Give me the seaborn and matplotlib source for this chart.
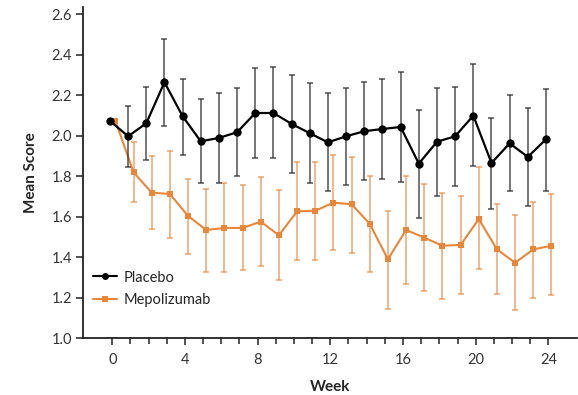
import numpy as np
import pandas as pd
import matplotlib
matplotlib.use("Agg")
import matplotlib.pyplot as plt
import seaborn as sns
from matplotlib.lines import Line2D

weeks = list(range(0, 25))

placebo_mean = [2.073, 1.997, 2.061, 2.264, 2.096, 1.972, 1.989, 2.017, 2.112, 2.112,
                2.058, 2.012, 1.967, 1.997, 2.022, 2.033, 2.043, 1.862, 1.970, 1.997,
                2.099, 1.865, 1.962, 1.895, 1.982]
placebo_upper = [2.073, 2.148, 2.242, 2.480, 2.282, 2.181, 2.213, 2.234, 2.336, 2.340,
                 2.300, 2.262, 2.210, 2.237, 2.264, 2.280, 2.316, 2.129, 2.236, 2.242,
                 2.356, 2.089, 2.201, 2.135, 2.231]
placebo_lower = [2.073, 1.844, 1.880, 2.046, 1.906, 1.768, 1.766, 1.802, 1.890, 1.888,
                 1.814, 1.764, 1.728, 1.755, 1.780, 1.787, 1.773, 1.593, 1.703, 1.753,
                 1.849, 1.639, 1.725, 1.652, 1.727]

mepo_mean = [2.073, 1.819, 1.718, 1.712, 1.603, 1.534, 1.544, 1.544, 1.575, 1.508,
             1.626, 1.629, 1.669, 1.661, 1.564, 1.389, 1.534, 1.496, 1.456, 1.460,
             1.588, 1.438, 1.372, 1.438, 1.456]
mepo_upper = [2.073, 1.969, 1.898, 1.926, 1.786, 1.735, 1.768, 1.758, 1.794, 1.732,
              1.870, 1.871, 1.903, 1.896, 1.802, 1.629, 1.802, 1.761, 1.718, 1.703,
              1.844, 1.664, 1.608, 1.674, 1.710]
mepo_lower = [2.073, 1.671, 1.540, 1.493, 1.415, 1.328, 1.325, 1.336, 1.354, 1.285,
              1.386, 1.386, 1.433, 1.420, 1.326, 1.142, 1.267, 1.234, 1.194, 1.219,
              1.341, 1.219, 1.137, 1.199, 1.213]

groups = ["Placebo", "Mepolizumab"]
x_ticks = [0, 4, 8, 12, 16, 20, 24]
y_ticks = [1.0, 1.2, 1.4, 1.6, 1.8, 2.0, 2.2, 2.4, 2.6]

ORANGE = "#E8863A"
BLACK = "#000000"
offsets = {"Placebo": -0.13, "Mepolizumab": 0.17}

sns.set_theme(style="ticks")
plt.rcParams["font.family"] = ["Lato", "DejaVu Sans"]

fig = plt.figure(figsize=(5.78, 3.95), dpi=100)
ax = fig.add_axes([0.144, 0.1443, 0.855, 0.838])

wk = np.array(weeks, dtype=float)
df = pd.concat([
    pd.DataFrame({"Week": wk + offsets["Placebo"], "Score": placebo_mean, "Group": "Placebo"}),
    pd.DataFrame({"Week": wk + offsets["Mepolizumab"], "Score": mepo_mean, "Group": "Mepolizumab"}),
], ignore_index=True)

pm = np.array(placebo_mean); pu = np.array(placebo_upper); pl = np.array(placebo_lower)
mm = np.array(mepo_mean); mu = np.array(mepo_upper); ml = np.array(mepo_lower)
ax.errorbar(wk[1:] + offsets["Mepolizumab"], mm[1:], yerr=[mm[1:] - ml[1:], mu[1:] - mm[1:]],
            fmt="none", ecolor=ORANGE, elinewidth=1.1, capsize=2.2, capthick=1.1,
            alpha=0.75, zorder=1)
ax.errorbar(wk[1:] + offsets["Placebo"], pm[1:], yerr=[pm[1:] - pl[1:], pu[1:] - pm[1:]],
            fmt="none", ecolor="#333333", elinewidth=1.1, capsize=2.2, capthick=1.1,
            alpha=0.85, zorder=3)

sns.lineplot(data=df[df.Group == "Mepolizumab"], x="Week", y="Score", color=ORANGE,
             marker="s", markersize=5, markeredgewidth=0, linewidth=1.5,
             ax=ax, zorder=2, legend=False)
sns.lineplot(data=df[df.Group == "Placebo"], x="Week", y="Score", color=BLACK,
             marker="o", markersize=6, markeredgewidth=0, linewidth=1.6,
             ax=ax, zorder=4, legend=False)

ax.set_xlim(-1.6, 25.6)
ax.set_ylim(1.0, 2.636)
ax.set_xticks(x_ticks)
ax.set_xticklabels([str(t) for t in x_ticks])
ax.set_xticks(weeks, minor=True)
ax.set_yticks(y_ticks)
ax.set_yticklabels([f"{t:.1f}" for t in y_ticks])
ax.spines["top"].set_visible(False)
ax.spines["right"].set_visible(False)
for s in ("left", "bottom"):
    ax.spines[s].set_linewidth(1.3)
    ax.spines[s].set_color("#222222")
ax.tick_params(axis="both", which="major", length=5, width=1.1, color="#222222",
               labelsize=10.5, labelcolor="#333333", pad=3)
ax.tick_params(axis="x", which="minor", length=4, width=1.1, color="#222222")
ax.tick_params(axis="y", which="minor", left=False)
ax.tick_params(axis="x", which="major", pad=6)

ax.set_xlabel("Week", fontsize=11, fontweight="bold", labelpad=9)
ax.set_ylabel("Mean Score", fontsize=11, fontweight="bold", labelpad=10)

handles = [Line2D([], [], color=BLACK, marker="o", markersize=5, markeredgewidth=0, linewidth=1.5),
           Line2D([], [], color=ORANGE, marker="s", markersize=5, markeredgewidth=0, linewidth=1.5)]
ax.legend(handles, groups, loc="lower left", bbox_to_anchor=(0.0, 0.062), frameon=False,
          fontsize=10.5, handlelength=1.6, handletextpad=0.5, labelspacing=0.6,
          borderaxespad=0.3)

fig.savefig("out.png", dpi=100)
